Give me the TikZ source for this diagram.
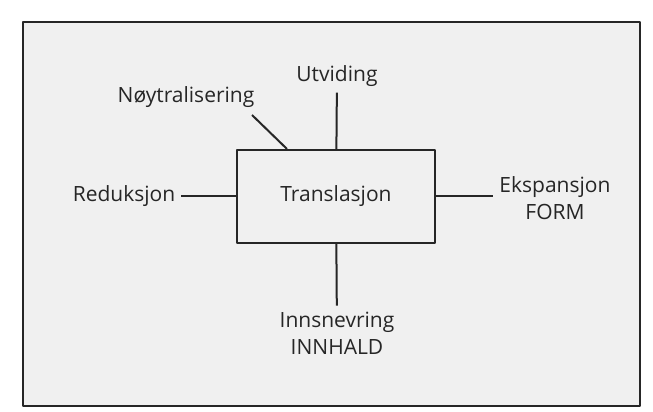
\documentclass[tikz,border=0pt]{standalone}
\usepackage{fontspec}
\setmainfont{Open Sans}
\begin{document}
\begin{tikzpicture}[x=1pt, y=1pt, line join=round, line cap=butt]
	\tikzset{every node/.style={font=\fontsize{21}{27}\selectfont, text=black!85, inner sep=2pt},
		boks/.style={draw=black!85, line width=2pt, minimum width=198pt, minimum height=93pt},
		etikett/.style={align=center, inner sep=6pt},
		strek/.style={line width=2pt, draw=black!85}}
	\useasboundingbox (0,0) rectangle (653,412);
	\fill[white] (0,0) rectangle (653,412);
	\draw[strek, fill=black!6] (23,6) rectangle (640,390);
	\node[boks] (trans) at (336,215.5) {Translasjon};
	\node[etikett] (utv) at (337,336) {Utviding};
	\node[etikett] (noy) at (186,315) {Nøytralisering};
	\node[etikett] (red) at (124,215.5) {Reduksjon};
	\node[etikett] (eks) at (555,214) {Ekspansjon\\FORM};
	\node[etikett] (inn) at (337,79) {Innsnevring\\INNHALD};
	\coordinate (noya) at (252,297);
	\coordinate (noyb) at ([xshift=51pt]trans.north west);
	\draw[strek] (utv) -- (trans);
	\draw[strek] (noya) -- (noyb);
	\draw[strek] (red) -- (trans);
	\draw[strek] (trans.east) -- (trans.east -| eks.west);
	\draw[strek] (trans) -- (inn);
\end{tikzpicture}
\end{document}
